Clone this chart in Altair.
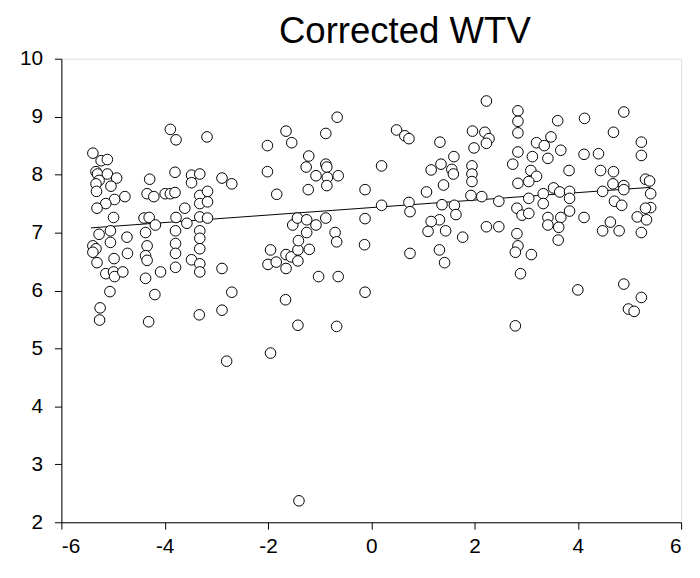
import altair as alt
import pandas as pd

# Scatter data (x, y)
x_vals = [
    -3.89, -3.78, -3.18, -5.39, -5.23, -5.11, -5.33, -5.30, -5.11, -4.93,
    -5.27, -5.33, -5.04, -5.32, -4.97, -4.77, -5.14, -5.31, -4.99, -5.05,
    -5.27, -4.73, -4.29, -4.34, -4.21, -3.99, -3.89, -3.80, -3.80, -3.48,
    -3.32, -3.48, -3.32, -3.32, -3.61, -4.40, -4.30, -4.18, -3.78, -3.57,
    -3.32, -4.37, -3.79, -3.32, -3.32,
    -5.39, -5.33, -5.39, -5.05, -4.72, -4.98, -5.31, -5.14, -4.99, -4.97,
    -4.81, -5.06, -5.25, -5.26, -4.34, -4.37, -4.34, -4.08, -4.37, -4.19,
    -4.31, -3.79, -3.79, -3.79, -3.48, -3.32, -3.32, -3.32, -3.33,
    -3.17, -3.17, -3.17,
    -0.66, -1.65, -1.54, -0.88, -2.01, -1.21, -1.26, -0.88, -0.86, -1.07,
    -0.85, -0.64, -1.22, -0.86, -2.01, -2.89, -2.70, -1.83, -0.12, -1.52,
    -1.43, -1.25, -1.07, -0.88, -0.70, -0.12, -1.25,
    -1.95, -2.00, -1.84, -1.65, -1.55, -1.42, -1.42, -1.65, -1.41, -1.20,
    -0.67, -1.02, -0.64, -0.13, -0.12, -2.89, -2.70, -2.89, -1.66, -1.42,
    -0.67, -1.95, -2.80, -1.40,
    2.23, 0.49, 0.65, 0.73, 1.33, 1.96, 2.20, 2.28, 2.23, 1.99,
    2.84, 2.84, 2.84, 2.84, 2.74, 0.20, 1.60, 1.35, 1.16, 1.56,
    1.59, 1.95, 1.95, 1.95, 1.40, 1.07, 2.84, 1.93, 2.14, 2.47,
    0.20, 0.73, 0.75, 1.37, 1.61, 1.64, 1.32, 1.16, 1.10, 1.44,
    1.77, 2.23, 2.47, 2.82, 2.82, 2.92,
    0.75, 1.32, 1.42, 2.84, 2.79, 2.89, 2.79,
    4.89, 4.13, 3.61, 4.69, 3.48, 3.20, 3.35, 3.67, 3.12, 3.42,
    4.12, 4.40, 5.23, 5.23, 3.83, 4.44, 4.69, 3.09, 3.20, 3.05,
    5.31, 5.39, 4.68, 4.89, 4.48, 4.89, 3.53, 3.65, 3.84, 3.33,
    3.05, 5.41, 3.33, 3.84, 3.84, 4.71, 4.85, 5.41, 5.31, 3.05,
    3.42, 3.67, 4.12, 5.15, 5.33, 3.42, 3.63, 4.48, 4.63, 4.80,
    5.23,
    3.62, 3.10, 4.00, 4.89, 5.23, 4.98, 5.09,
]
y_vals = [
    8.78, 8.60, 8.65, 8.37, 8.24, 8.26, 8.05, 8.01, 8.01, 7.94,
    7.90, 7.84, 7.80, 7.71, 7.57, 7.62, 7.50, 7.42, 7.26, 7.03,
    6.97, 6.92, 7.92, 7.67, 7.62, 7.67, 7.67, 7.69, 8.04, 7.99,
    8.01, 7.86, 7.64, 7.50, 7.42, 7.25, 7.26, 7.13, 7.26, 7.16,
    7.27, 7.00, 7.03, 7.03, 6.90,
    6.77, 6.72, 6.66, 6.83, 6.64, 6.55, 6.48, 6.29, 6.32, 6.24,
    6.32, 5.98, 5.70, 5.49, 6.77, 6.60, 6.52, 6.32, 6.21, 5.93,
    5.46, 6.81, 6.64, 6.40, 6.53, 6.72, 6.46, 6.32, 5.58,
    7.71, 7.53, 7.25,
    8.99, 8.75, 8.55, 8.71, 8.50, 8.32, 8.13, 8.18, 8.13, 7.98,
    7.95, 7.98, 7.74, 7.81, 8.05, 7.94, 7.84, 7.66, 7.74, 7.13,
    7.25, 7.22, 7.13, 7.25, 7.00, 7.24, 7.00,
    6.70, 6.45, 6.49, 6.62, 6.58, 6.70, 6.51, 6.38, 6.86, 6.71,
    6.84, 6.24, 6.24, 6.79, 5.97, 6.38, 5.97, 5.66, 5.84, 5.40,
    5.38, 4.92, 4.78, 2.37,
    9.27, 8.77, 8.67, 8.62, 8.56, 8.75, 8.73, 8.62, 8.54, 8.46,
    9.10, 8.92, 8.72, 8.39, 8.18, 8.15, 8.31, 8.18, 8.08, 8.09,
    8.01, 8.15, 8.01, 7.88, 7.82, 7.70, 7.85, 7.64, 7.62, 7.54,
    7.47, 7.52, 7.36, 7.48, 7.47, 7.31, 7.22, 7.19, 7.02, 7.03,
    6.92, 7.10, 7.10, 6.98, 7.42, 7.30,
    6.64, 6.70, 6.48, 6.77, 6.66, 6.29, 5.39,
    9.08, 8.97, 8.93, 8.73, 8.65, 8.55, 8.50, 8.42, 8.31, 8.28,
    8.35, 8.36, 8.56, 8.33, 8.07, 8.07, 8.05, 8.07, 7.97, 7.88,
    7.92, 7.89, 7.84, 7.81, 7.71, 7.74, 7.77, 7.70, 7.71, 7.67,
    7.59, 7.67, 7.50, 7.59, 7.37, 7.54, 7.47, 7.43, 7.42, 7.33,
    7.26, 7.26, 7.26, 7.27, 7.22, 7.13, 7.09, 7.03, 7.18, 7.03,
    7.00,
    6.87, 6.62, 6.01, 6.11, 5.88, 5.68, 5.64,
]

# Fitted line endpoints
line_x = [-5.43, 5.41]
line_y = [7.08, 7.78]

x_ticks = [-6, -4, -2, 0, 2, 4, 6]
y_ticks = [2, 3, 4, 5, 6, 7, 8, 9, 10]

pts = pd.DataFrame({"x": x_vals, "y": y_vals})
fit = pd.DataFrame({"x": line_x, "y": line_y})

FONT = "Liberation Sans, Arial, sans-serif"

xs = alt.Scale(domain=[-6, 6], nice=False, zero=False)
ys = alt.Scale(domain=[2, 10], nice=False, zero=False)

x_axis = alt.Axis(values=x_ticks, title=None, grid=False, tickSize=7,
                  labelPadding=7, domainColor="black", tickColor="black",
                  labelColor="black", labelFontSize=21, labelFont=FONT,
                  labelExpr="datum.value + ''")
y_axis = alt.Axis(values=y_ticks, title=None, grid=False, tickSize=7,
                  labelPadding=12, domainColor="black", tickColor="black",
                  labelColor="black", labelFontSize=21, labelFont=FONT,
                  labelExpr="datum.value + ''")

line = alt.Chart(fit).mark_line(color="black", strokeWidth=1).encode(
    x=alt.X("x:Q", scale=xs, axis=x_axis),
    y=alt.Y("y:Q", scale=ys, axis=y_axis),
)

points = alt.Chart(pts).mark_circle(
    fill="white", stroke="black", strokeWidth=1, opacity=1, size=115
).encode(
    x=alt.X("x:Q", scale=xs),
    y=alt.Y("y:Q", scale=ys),
)

chart = alt.layer(line, points).properties(
    width=627,
    height=469,
    title=alt.TitleParams("Corrected WTV", fontSize=37, font=FONT,
                          fontWeight="normal", color="black",
                          anchor="middle", dx=34, dy=4, offset=1),
    autosize=alt.AutoSizeParams(type="none"),
    padding={"left": 54, "top": 48, "right": 11, "bottom": 45},
).configure_view(stroke=None).configure(background="white")

chart.save("out.html", embed_options={"renderer": "svg", "actions": False})
